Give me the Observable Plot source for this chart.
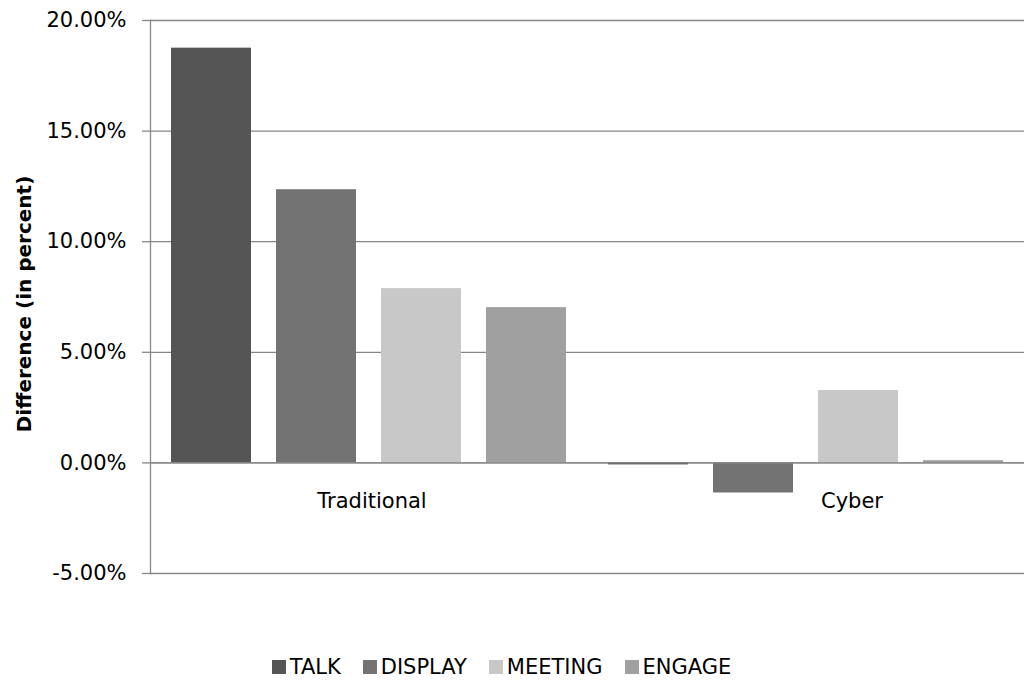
<!DOCTYPE html>
<html>
<head>
<meta charset="utf-8">
<script src="https://cdn.jsdelivr.net/npm/d3@7"></script>
<script src="https://cdn.jsdelivr.net/npm/@observablehq/plot@0.6"></script>
<style>
  html, body { margin: 0; padding: 0; background: #fff; }
  #chart { width: 1025px; font-family: "DejaVu Sans", sans-serif; }
  .legend { text-align: center; height: 43px; padding-top: 15px; box-sizing: border-box;
            font-family: "DejaVu Sans", sans-serif; font-size: 21px; line-height: 24px; color: #000;
            padding-right: 22px; white-space: nowrap; }
  .legend .item { display: inline-block; margin: 0 11px; }
  .legend .sw { display: inline-block; width: 14px; height: 14px; margin-right: 4px; vertical-align: baseline; }
</style>
</head>
<body>
<div id="chart"></div>
<script>
// Groups (categories along x) and series (bars within each group)
const groups = ["Traditional", "Cyber"];
const series = ["TALK", "DISPLAY", "MEETING", "ENGAGE"];
const colors = ["#555555", "#737373", "#c8c8c8", "#a0a0a0"];

// Difference in percent, one value per series, per group
const traditionalValues = [18.75, 12.35, 7.88, 7.02];
const cyberValues = [-0.09, -1.36, 3.27, 0.10];

const yTicks = [-5, 0, 5, 10, 15, 20];
const yLabel = "Difference (in percent)";

const rows = [
  ...series.map((s, i) => ({group: groups[0], series: s, value: traditionalValues[i]})),
  ...series.map((s, i) => ({group: groups[1], series: s, value: cyberValues[i]}))
];

const gridColor = "#878787";
const font = "'DejaVu Sans', sans-serif";

const chart = Plot.plot({
  width: 1025,
  height: 640,
  marginLeft: 150,
  marginRight: 1,
  marginTop: 20,
  marginBottom: 67,
  style: {fontFamily: font, fontSize: "21px", color: "#000", background: "#fff"},
  fx: {domain: groups, padding: 0, axis: null},
  x: {domain: series, paddingInner: 0.236, paddingOuter: 0.19, axis: null},
  y: {domain: [-5, 20], axis: null},
  color: {domain: series, range: colors},
  marks: [
    Plot.gridY(yTicks, {stroke: gridColor, strokeOpacity: 1, strokeWidth: 1.3}),
    Plot.barY(rows, {fx: "group", x: "series", y: "value", fill: "series"}),
    Plot.ruleY([0], {stroke: gridColor, strokeWidth: 1.3}),
    Plot.frame({anchor: "left", stroke: gridColor, strokeWidth: 1.3, facet: "super"}),
    Plot.axisY(yTicks, {
      tickFormat: d => d.toFixed(2) + "%",
      tickSize: 8,
      tickPadding: 16,
      stroke: gridColor,
      strokeWidth: 1.3,
      fontSize: 21,
      label: null
    }),
    // Category labels under the zero line
    Plot.text(groups.filter(g => g === "Traditional"), {fx: d => d, y: () => 0, text: d => d, dy: 38, dx: 3, fontSize: 21}),
    Plot.text(groups.filter(g => g === "Cyber"), {fx: d => d, y: () => 0, text: d => d, dy: 38, dx: 46, fontSize: 21}),
    // Vertical axis title
    Plot.text([yLabel], {
      frameAnchor: "left", textAnchor: "middle", rotate: -90, dx: -126, dy: 7,
      text: d => d, fontWeight: "bold", fontSize: 20, facet: "super"
    })
  ]
});

document.getElementById("chart").appendChild(chart);

// Legend beneath the chart
const legend = document.createElement("div");
legend.className = "legend";
series.forEach((s, i) => {
  const item = document.createElement("span");
  item.className = "item";
  const sw = document.createElement("span");
  sw.className = "sw";
  sw.style.background = colors[i];
  const label = document.createElement("span");
  label.textContent = s;
  item.appendChild(sw);
  item.appendChild(label);
  legend.appendChild(item);
});
document.getElementById("chart").appendChild(legend);
</script>
</body>
</html>
